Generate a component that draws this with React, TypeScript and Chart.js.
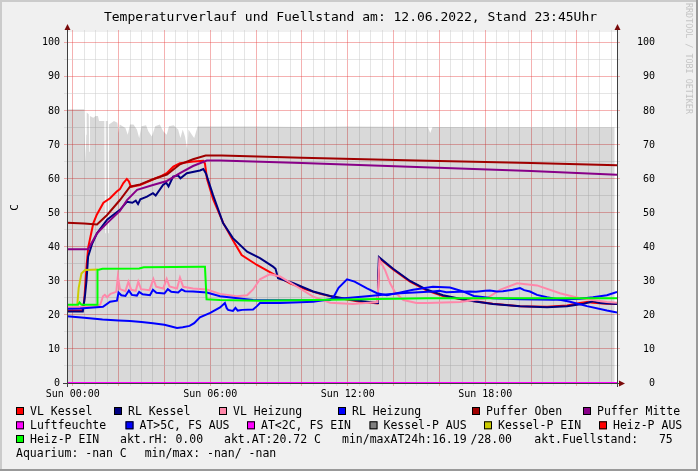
import React, { useEffect, useRef } from 'react';
import { Chart, registerables } from 'chart.js';

Chart.register(...registerables);

type P = [number, number];

const FONT = "'DejaVu Sans Mono', monospace";
const TITLE = 'Temperaturverlauf und Fuellstand am: 12.06.2022, Stand 23:45Uhr';
const Y_TITLE = 'C';
const WATERMARK = 'RRDTOOL / TOBI OETIKER';

// axis ranges (hours of the day, degrees / percent)
const X_MIN = -0.25;
const X_MAX = 23.75;
const Y_MIN = 0;
const Y_MAX = 103.2;
const X_LABEL_HOURS = [0, 6, 12, 18];
const X_LABEL_TEXT = ['Sun 00:00', 'Sun 06:00', 'Sun 12:00', 'Sun 18:00'];
const Y_LABELS = [0, 10, 20, 30, 40, 50, 60, 70, 80, 90, 100];

// ---- series: [hour, value] ----
const fuellstand: P[] = [
  [-0.25, 80.5], [0.5, 80.5], [0.52, 73], [0.56, 65], [0.59, 73], [0.61, 79.5], [0.7, 79], [0.72, 68], [0.75, 78.5],
  [0.9, 78], [1.0, 78.5], [1.1, 78.5], [1.15, 77], [1.38, 77], [1.41, 44], [1.44, 77], [1.52, 77], [1.55, 44],
  [1.58, 76], [1.8, 77], [1.95, 76.5], [2.0, 73.5], [2.05, 76], [2.3, 75], [2.4, 73], [2.5, 76], [2.65, 76],
  [2.8, 74.5], [2.9, 72], [3.0, 75.5], [3.2, 75.8], [3.3, 74], [3.45, 72.5], [3.6, 75.5], [3.8, 76], [3.95, 74],
  [4.1, 73], [4.2, 75.5], [4.4, 75.8], [4.6, 74.5], [4.7, 72], [4.8, 74.5], [4.9, 72.5], [5.0, 68.5], [5.05, 74.5],
  [5.2, 73], [5.3, 72], [5.45, 75.4], [8.0, 75.4], [10.0, 75.3], [12.0, 75.4], [15.5, 75.3], [15.6, 73.5],
  [15.7, 75.3], [19.0, 75.2], [23.65, 75.2],
];

const vlKessel: P[] = [
  [-0.25, 21.3], [0.42, 21.3], [0.5, 24], [0.61, 35], [0.68, 40], [0.9, 47], [1.05, 49.5], [1.34, 53], [1.63, 54.3],
  [1.92, 56.3], [2.06, 57], [2.21, 58.8], [2.36, 60], [2.45, 59.3], [2.54, 57.7], [2.94, 58.2], [3.52, 59.9],
  [3.81, 60.7], [4.1, 61.7], [4.39, 63.6], [4.68, 64.6], [5.26, 65.1], [5.7, 65.3], [5.77, 64.5], [5.86, 60],
  [6.13, 54], [6.57, 47], [6.99, 42], [7.37, 37.6], [8.04, 34.7], [8.74, 32.1], [9.48, 29.3], [10.23, 27.4],
  [10.79, 26.2], [11.66, 24.9], [12.54, 23.9], [13.3, 23.4], [13.34, 30], [13.38, 36.7], [13.98, 33.4],
  [14.72, 29.8], [15.46, 27.2], [16.16, 25.6], [17.2, 24.3], [18.33, 23.3], [19.52, 22.6], [20.7, 22.4],
  [21.57, 22.8], [22.13, 23.5], [22.44, 23.8], [22.7, 23.6], [23.31, 23.3], [23.75, 23.2],
];

const rlKessel: P[] = [
  [-0.25, 21], [0.44, 21], [0.54, 26], [0.6, 30], [0.67, 37.1], [0.85, 41], [1.06, 44], [1.5, 48], [2.06, 50.9],
  [2.37, 53.3], [2.6, 53], [2.75, 53.6], [2.85, 52.6], [2.95, 54], [3.24, 54.8], [3.5, 55.8], [3.62, 55.1],
  [3.94, 58.2], [4.08, 58.9], [4.18, 57.8], [4.38, 60.7], [4.6, 61], [4.7, 60.2], [4.98, 61.7], [5.55, 62.5],
  [5.7, 62.9], [5.82, 61.5], [6.12, 55.3], [6.56, 47], [6.99, 42.6], [7.61, 38.6], [8.17, 36.7], [8.74, 34.2],
  [8.85, 33.6], [8.96, 30.8], [9.61, 29.4], [10.49, 26.9], [11.23, 25.6], [12.23, 24.4], [13.28, 23.5],
  [13.32, 30], [13.36, 37], [13.98, 33.6], [14.72, 30], [15.46, 27.4], [16.16, 25.8], [17.2, 24.3],
  [18.33, 23.2], [19.52, 22.6], [20.7, 22.3], [21.57, 22.6], [22.3, 23.3], [22.7, 24], [23.0, 23.5], [23.75, 23.2],
];

const vlHeizung: P[] = [
  [-0.25, 22.3], [0.9, 22.4], [1.2, 23], [1.32, 25.5], [1.4, 25.9], [1.5, 25.2], [1.65, 26.2], [1.9, 26.8],
  [1.97, 31.3], [2.06, 27.6], [2.3, 27.0], [2.43, 29.8], [2.55, 27.4], [2.75, 27.1], [2.86, 29.8], [2.98, 27.6],
  [3.35, 27.3], [3.52, 30.6], [3.64, 28.3], [3.95, 27.8], [4.1, 30.6], [4.22, 28.4], [4.55, 27.8], [4.68, 31.0],
  [4.82, 28.3], [5.25, 27.8], [5.85, 27.5], [6.43, 26.2], [7.16, 25.5], [7.61, 25.8], [7.87, 27.5], [8.17, 30.5],
  [8.61, 32.0], [9.05, 31.3], [9.79, 28.3], [10.49, 25.4], [11.23, 23.6], [12.23, 23.2], [13.3, 23.8],
  [13.38, 36.3], [13.63, 33.2], [13.85, 29.3], [14.07, 26.6], [14.43, 24.4], [15.0, 23.5], [15.46, 23.5],
  [16.9, 23.8], [18.07, 24.9], [18.64, 27.4], [19.39, 29.3], [20.26, 28.7], [21.26, 26.4], [22.13, 24.9],
  [23.31, 23.8], [23.75, 23.6],
];

const rlHeizung: P[] = [
  [-0.25, 21.8], [0.32, 21.9], [0.9, 22.2], [1.32, 22.4], [1.63, 23.9], [1.93, 24.2], [2.0, 26.6], [2.12, 25.8],
  [2.3, 25.6], [2.45, 27.2], [2.58, 25.9], [2.8, 25.7], [2.9, 26.8], [3.05, 26.1], [3.37, 25.8], [3.5, 27.4],
  [3.65, 26.5], [4.0, 26.3], [4.15, 27.6], [4.3, 26.8], [4.6, 26.6], [4.75, 27.5], [4.9, 27.0], [5.25, 26.9],
  [5.85, 26.6], [6.43, 25.5], [7.87, 24.4], [9.05, 24.3], [11.23, 24.4], [11.4, 25.5], [11.6, 28], [11.97, 30.5],
  [12.3, 29.8], [12.84, 27.8], [13.28, 26.4], [13.71, 25.8], [14.0, 26.2], [14.85, 27.4], [15.72, 28.3],
  [16.46, 28.1], [17.0, 27.0], [17.5, 25.6], [18.33, 24.9], [19.52, 24.6], [21.0, 24.5], [22.13, 24.8],
  [22.7, 25.2], [23.31, 25.8], [23.75, 26.8],
];

const aussenTemp: P[] = [
  [-0.25, 19.6], [0.5, 19.2], [1.3, 18.7], [2.0, 18.4], [2.5, 18.2], [3.0, 17.9], [3.5, 17.6], [4.0, 17.1],
  [4.3, 16.6], [4.55, 16.2], [4.8, 16.4], [5.1, 16.8], [5.3, 17.6], [5.55, 19.3], [6.0, 20.6], [6.43, 22.2],
  [6.64, 23.5], [6.72, 22], [6.78, 21.5], [6.99, 21.2], [7.1, 22.1], [7.2, 21.3], [7.4, 21.5], [7.87, 21.6],
  [8.04, 22.6], [8.17, 23.5], [9.05, 23.5], [10.49, 23.9], [11.23, 24.6], [11.97, 25.0], [12.84, 25.5],
  [13.41, 25.9], [14.28, 26.4], [15.72, 26.9], [16.0, 27.1], [16.3, 26.7], [16.9, 26.8], [17.33, 26.9],
  [17.6, 26.8], [18.0, 27.1], [18.2, 27.2], [18.5, 26.9], [18.77, 27.0], [19.2, 27.4], [19.52, 27.9],
  [19.7, 27.3], [19.95, 26.9], [20.26, 25.9], [20.7, 25.2], [21.7, 23.9], [22.44, 22.6], [23.31, 21.3],
  [23.75, 20.72],
];

const pufferOben: P[] = [
  [-0.25, 47.1], [0.5, 46.9], [1.06, 46.6], [1.5, 49.4], [2.06, 53.8], [2.5, 57.7], [2.94, 58.4], [3.5, 59.9],
  [4.11, 61.3], [4.68, 64.3], [5.25, 65.8], [5.8, 66.9], [6.5, 66.9], [10.0, 66.2], [15.0, 65.4], [20.0, 64.7],
  [23.75, 64.0],
];

const pufferMitte: P[] = [
  [-0.25, 39.3], [0.67, 39.3], [1.06, 44], [1.5, 47], [2.06, 50.6], [2.37, 53.8], [2.81, 56.8], [3.5, 58.2],
  [4.11, 59.4], [4.68, 61.7], [5.25, 63.8], [5.85, 65.4], [6.43, 65.4], [10.0, 64.7], [15.0, 63.5],
  [20.0, 62.3], [23.75, 61.2],
];

const luftfeuchte: P[] = [[-0.25, 0], [23.75, 0]];

const kesselPEin: P[] = [[0.2, 23], [0.26, 28], [0.38, 32.2], [0.54, 33.2], [1.1, 33.4]];

const heizPEin: P[] = [
  [-0.25, 23], [0.23, 23], [0.3, 23.7], [0.38, 23], [1.06, 23], [1.08, 33.2], [1.3, 33.6], [2.9, 33.7],
  [3.1, 34], [5.7, 34.2], [5.77, 34.2], [5.84, 24.6], [6.43, 24.4], [8.17, 24.2], [10.49, 24.4], [15.46, 24.9],
  [23.75, 24.9],
];

// legend texts / colours
const LEGEND_ROW1 = [
  { label: 'VL Kessel', color: '#ff0000' },
  { label: 'RL Kessel', color: '#000080' },
  { label: 'VL Heizung', color: '#ff88aa' },
  { label: 'RL Heizung', color: '#0000ff' },
  { label: 'Puffer Oben', color: '#a00000' },
  { label: 'Puffer Mitte', color: '#880088' },
];
const LEGEND_ROW2 = [
  { label: 'Luftfeuchte', color: '#ff00ff' },
  { label: 'AT>5C, FS AUS', color: '#0000ff' },
  { label: 'AT<2C, FS EIN', color: '#ff00ff' },
  { label: 'Kessel-P AUS', color: '#808080' },
  { label: 'Kessel-P EIN', color: '#cccc00' },
  { label: 'Heiz-P AUS', color: '#ff0000' },
];
const LEGEND_ROW3 = [{ label: 'Heiz-P EIN', color: '#00ff00' }];
const INFO_ROW3 = ['akt.rH: 0.00', 'akt.AT:20.72 C', 'min/maxAT24h:16.19', '/28.00', 'akt.Fuellstand:   75'];
const INFO_ROW4 = ['Aquarium: -nan C', 'min/max: -nan/ -nan'];

// lines drawn in legend order (later on top)
const SERIES = [
  { label: 'VL Kessel', color: '#ff0000', data: vlKessel },
  { label: 'RL Kessel', color: '#000080', data: rlKessel },
  { label: 'VL Heizung', color: '#ff88aa', data: vlHeizung },
  { label: 'RL Heizung', color: '#0000ff', data: rlHeizung },
  { label: 'Puffer Oben', color: '#a00000', data: pufferOben },
  { label: 'Puffer Mitte', color: '#880088', data: pufferMitte },
  { label: 'Luftfeuchte', color: '#ff00ff', data: luftfeuchte },
  { label: 'AT>5C, FS AUS', color: '#0000ff', data: aussenTemp },
  { label: 'Kessel-P EIN', color: '#cccc00', data: kesselPEin },
  { label: 'Heiz-P EIN', color: '#00ff00', data: heizPEin },
];

// ---- layout (pixels) ----
const LAYOUT = {
  left: 67,
  rightAxisWidth: 81,
  top: 32,
  bottomHeight: 88,
  legendRow1X: [16, 114, 219, 338, 472, 583],
  legendRow2X: [16, 125.5, 247, 369.5, 484, 599],
  legendRow3X: [16],
  infoRow3X: [120, 224, 342, 470.5, 534.3],
  infoRow4X: [16, 144.7],
  rowBaselines: [415, 429.3, 443, 457],
};

const MINOR = 'rgba(204,204,204,0.5)';
const MAJOR = 'rgba(230,60,60,0.4)';
const AXIS = '#404040';
const ARROW = '#7a0a0a';

const X_GRID: number[] = [];
for (let i = 0; i <= 47; i++) X_GRID.push(i * 0.5);
const Y_GRID: number[] = [];
for (let i = 0; i <= 20; i++) Y_GRID.push(i * 5);

const toXY = (arr: P[]) => arr.map(([x, y]) => ({ x, y }));
const align = (p: number) => Math.round(p - 0.5) + 0.5;

const decor = {
  id: 'rrdDecor',
  beforeDraw(chart: any) {
    const { ctx, width, height, chartArea: a } = chart;
    ctx.save();
    ctx.fillStyle = '#f0f0f0';
    ctx.fillRect(0, 0, width, height);
    ctx.fillStyle = '#cbcbcb';
    ctx.fillRect(0, 0, width, 2);
    ctx.fillRect(0, 0, 2, height);
    ctx.fillStyle = '#999999';
    ctx.fillRect(0, height - 2, width, 2);
    ctx.fillRect(width - 2, 0, 2, height);
    ctx.fillStyle = '#ffffff';
    ctx.fillRect(a.left, a.top, a.right - a.left, a.bottom - a.top);
    ctx.restore();
  },
  beforeDatasetsDraw(chart: any) {
    const { ctx, chartArea: a } = chart;
    const xs = chart.scales.x;
    const ys = chart.scales.y;
    ctx.save();
    ctx.lineWidth = 1;
    const seg = (x1: number, y1: number, x2: number, y2: number) => {
      ctx.beginPath();
      ctx.moveTo(x1, y1);
      ctx.lineTo(x2, y2);
      ctx.stroke();
    };
    for (const v of X_GRID) {
      const px = align(xs.getPixelForValue(v));
      ctx.strokeStyle = v % 2 === 0 ? MAJOR : MINOR;
      seg(px, a.top - 2, px, a.top);
      seg(px, a.bottom, px, a.bottom + 3);
    }
    for (const v of Y_GRID) {
      const py = align(ys.getPixelForValue(v));
      ctx.strokeStyle = v % 10 === 0 ? MAJOR : MINOR;
      seg(a.left - 3, py, a.left, py);
      seg(a.right, py, a.right + 3, py);
    }
    // x axis
    ctx.strokeStyle = AXIS;
    const yb = align(a.bottom);
    seg(a.left - 4, yb, a.right + 4, yb);
    ctx.fillStyle = ARROW;
    ctx.beginPath();
    ctx.moveTo(a.right + 8, yb);
    ctx.lineTo(a.right + 2, yb - 3);
    ctx.lineTo(a.right + 2, yb + 3);
    ctx.closePath();
    ctx.fill();
    ctx.restore();
  },
  afterDatasetsDraw(chart: any) {
    const { ctx, chartArea: a } = chart;
    ctx.save();
    ctx.lineWidth = 1;
    ctx.strokeStyle = AXIS;
    for (const xv of [a.left, a.right]) {
      const px = align(xv);
      ctx.beginPath();
      ctx.moveTo(px, a.bottom + 4);
      ctx.lineTo(px, a.top - 3);
      ctx.stroke();
      ctx.fillStyle = ARROW;
      ctx.beginPath();
      ctx.moveTo(px, a.top - 8);
      ctx.lineTo(px - 3, a.top - 2);
      ctx.lineTo(px + 3, a.top - 2);
      ctx.closePath();
      ctx.fill();
    }
    ctx.restore();
  },
  afterDraw(chart: any) {
    const { ctx, chartArea: a } = chart;
    ctx.save();
    ctx.fillStyle = '#000000';
    // title
    ctx.font = `13px ${FONT}`;
    ctx.textAlign = 'center';
    ctx.textBaseline = 'alphabetic';
    ctx.fillText(TITLE, 350.5, 20.5);
    // vertical axis title
    ctx.save();
    ctx.translate(18, (a.top + a.bottom) / 2);
    ctx.rotate(-Math.PI / 2);
    ctx.font = `11px ${FONT}`;
    ctx.textAlign = 'center';
    ctx.textBaseline = 'alphabetic';
    ctx.fillText(Y_TITLE, 0, 0);
    ctx.restore();
    // watermark
    ctx.save();
    ctx.translate(686, 3);
    ctx.rotate(Math.PI / 2);
    ctx.font = `8.4px ${FONT}`;
    ctx.fillStyle = '#c4c4c4';
    ctx.textAlign = 'left';
    ctx.textBaseline = 'alphabetic';
    ctx.fillText(WATERMARK, 0, 0);
    ctx.restore();
    // legend
    ctx.font = `11.5px ${FONT}`;
    ctx.textAlign = 'left';
    ctx.textBaseline = 'alphabetic';
    const item = (x: number, base: number, label: string, color: string) => {
      ctx.fillStyle = color;
      ctx.fillRect(x, base - 8, 8, 8);
      ctx.strokeStyle = '#000000';
      ctx.lineWidth = 1;
      ctx.strokeRect(x + 0.5, base - 7.5, 7, 7);
      ctx.fillStyle = '#000000';
      ctx.fillText(label, x + 14, base);
    };
    const rb = LAYOUT.rowBaselines;
    LEGEND_ROW1.forEach((it, i) => item(LAYOUT.legendRow1X[i], rb[0], it.label, it.color));
    LEGEND_ROW2.forEach((it, i) => item(LAYOUT.legendRow2X[i], rb[1], it.label, it.color));
    LEGEND_ROW3.forEach((it, i) => item(LAYOUT.legendRow3X[i], rb[2], it.label, it.color));
    ctx.fillStyle = '#000000';
    INFO_ROW3.forEach((t, i) => ctx.fillText(t, LAYOUT.infoRow3X[i], rb[2]));
    INFO_ROW4.forEach((t, i) => ctx.fillText(t, LAYOUT.infoRow4X[i], rb[3]));
    ctx.restore();
  },
};

export default function App() {
  const ref = useRef<HTMLCanvasElement>(null);
  useEffect(() => {
    const canvas = ref.current;
    if (!canvas) return;
    const n = SERIES.length;
    const datasets: any[] = [
      {
        label: 'Fuellstand',
        data: toXY(fuellstand),
        fill: 'origin',
        backgroundColor: 'rgba(0,0,0,0.15)',
        borderColor: 'rgba(0,0,0,0)',
        borderWidth: 0,
        pointRadius: 0,
        order: 100,
      },
      ...SERIES.map((s, i) => ({
        label: s.label,
        data: toXY(s.data),
        borderColor: s.color,
        backgroundColor: s.color,
        borderWidth: 2,
        pointRadius: 0,
        fill: false,
        tension: 0,
        order: n - i,
      })),
    ];
    const tickFont = { family: FONT, size: 10 };
    const chart = new Chart(canvas, {
      type: 'line',
      data: { datasets },
      plugins: [decor],
      options: {
        animation: false,
        responsive: false,
        devicePixelRatio: 1,
        events: [],
        layout: { padding: { top: LAYOUT.top, left: 0, right: 0, bottom: 0 } },
        plugins: { legend: { display: false }, title: { display: false }, tooltip: { enabled: false } },
        scales: {
          x: {
            type: 'linear',
            min: X_MIN,
            max: X_MAX,
            bounds: 'data',
            afterBuildTicks: (s: any) => {
              s.ticks = X_GRID.map((v) => ({ value: v }));
            },
            afterFit: (s: any) => {
              s.height = LAYOUT.bottomHeight;
              s.paddingLeft = 0;
              s.paddingRight = 0;
            },
            grid: {
              color: (c: any) => (c.tick && c.tick.value % 2 === 0 ? MAJOR : MINOR),
              lineWidth: 1,
              drawTicks: false,
            },
            border: { display: false },
            ticks: {
              autoSkip: false,
              maxRotation: 0,
              minRotation: 0,
              padding: 5,
              color: '#000000',
              font: tickFont,
              callback: (v: any) => {
                const i = X_LABEL_HOURS.indexOf(Number(v));
                return i >= 0 ? X_LABEL_TEXT[i] : '';
              },
            },
          },
          y: {
            type: 'linear',
            position: 'left',
            min: Y_MIN,
            max: Y_MAX,
            bounds: 'data',
            afterBuildTicks: (s: any) => {
              s.ticks = Y_GRID.map((v) => ({ value: v }));
            },
            afterFit: (s: any) => {
              s.width = LAYOUT.left;
              s.paddingTop = 0;
              s.paddingBottom = 0;
            },
            grid: {
              color: (c: any) => (c.tick && c.tick.value % 10 === 0 ? MAJOR : MINOR),
              lineWidth: 1,
              drawTicks: false,
            },
            border: { display: false },
            ticks: {
              padding: 7,
              color: '#000000',
              font: tickFont,
              callback: (v: any) => (Y_LABELS.includes(Number(v)) ? String(v) : ''),
            },
          },
          y2: {
            type: 'linear',
            position: 'right',
            min: Y_MIN,
            max: Y_MAX,
            bounds: 'data',
            afterBuildTicks: (s: any) => {
              s.ticks = Y_GRID.map((v) => ({ value: v }));
            },
            afterFit: (s: any) => {
              s.width = LAYOUT.rightAxisWidth;
              s.paddingTop = 0;
              s.paddingBottom = 0;
            },
            grid: { display: false, drawTicks: false },
            border: { display: false },
            ticks: {
              padding: 20,
              color: '#000000',
              font: tickFont,
              callback: (v: any) => (Y_LABELS.includes(Number(v)) ? String(v).padStart(3, ' ') : ''),
            },
          },
        },
      } as any,
    });
    return () => chart.destroy();
  }, []);
  return (
    <div style={{ position: 'absolute', left: 0, top: 0, width: 698, height: 471 }}>
      <canvas ref={ref} width={698} height={471} style={{ display: 'block', width: 698, height: 471 }} />
    </div>
  );
}
